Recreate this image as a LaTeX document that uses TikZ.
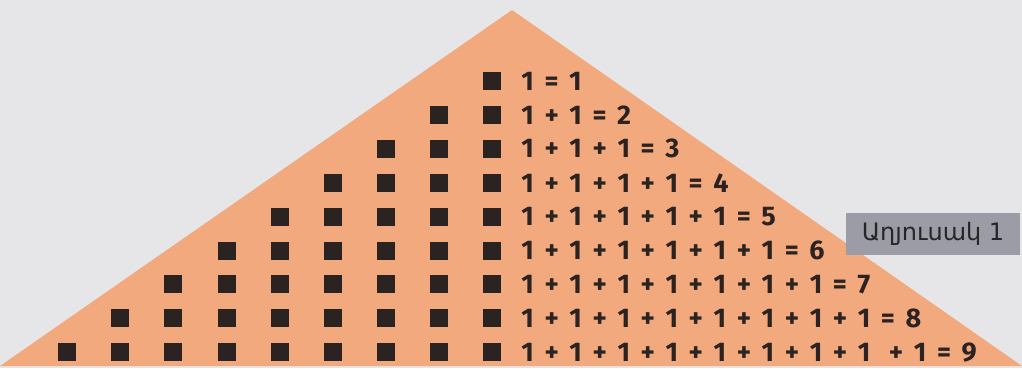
\documentclass[tikz,border=0pt]{standalone}
\usepackage{fontspec}
\setmainfont{Fira Sans}
\newfontfamily\armfont{DejaVu Sans}
\usetikzlibrary{positioning}
\definecolor{salmon}{HTML}{F3A97E}
\definecolor{pagegray}{HTML}{E6E6E9}
\definecolor{sqdark}{HTML}{2B2222}
\definecolor{tabgray}{HTML}{9C9CA6}
\newcommand\widespaces{\spaceskip=10.6pt\relax}

\begin{document}
\begin{tikzpicture}[
    x=1pt,y=-1pt,
    sq/.style={fill=sqdark,minimum size=18pt,inner sep=0pt},
    eqn/.style={
        font=\fontsize{27}{32}\selectfont\bfseries,
        execute at begin node=\widespaces,
        text=sqdark,inner sep=0pt
    },
    tab/.style={
        fill=tabgray,minimum width=174pt,minimum height=42pt,
        font=\armfont\fontsize{24}{29}\selectfont,text=black!85
    }
]
\useasboundingbox (0,0) rectangle (1022,368);
\fill[pagegray] (0,0) rectangle (1022,368);
\fill[salmon] (0,366) -- (512,10) -- (1022,366) -- cycle;
% squares, one more in each row
\foreach \r in {1,...,9}
  \foreach \c in {1,...,\r}
    \node[sq] (s\r\c) at ({492-53.1*(\c-1)},{81+33.9*(\r-1)}) {};
\node[eqn,right=20pt of s11] (e1) {1 = 1};
\node[eqn,right=20pt of s21] (e2) {1 + 1 = 2};
\node[eqn,right=20pt of s31] (e3) {1 + 1 + 1 = 3};
\node[eqn,right=20pt of s41] (e4) {1 + 1 + 1 + 1 = 4};
\node[eqn,right=20pt of s51] (e5) {1 + 1 + 1 + 1 + 1 = 5};
\node[eqn,right=20pt of s61] (e6) {1 + 1 + 1 + 1 + 1 + 1 = 6};
\node[eqn,right=20pt of s71] (e7) {1 + 1 + 1 + 1 + 1 + 1 + 1 = 7};
\node[eqn,right=20pt of s81] (e8) {1 + 1 + 1 + 1 + 1 + 1 + 1 + 1 = 8};
\node[eqn,right=20pt of s91] (e9)
  {1 + 1 + 1 + 1 + 1 + 1 + 1 + 1\hspace{8pt} + 1 = 9};
\node[tab] (tab1) at (933,234) {Աղյուսակ 1};
\end{tikzpicture}
\end{document}
